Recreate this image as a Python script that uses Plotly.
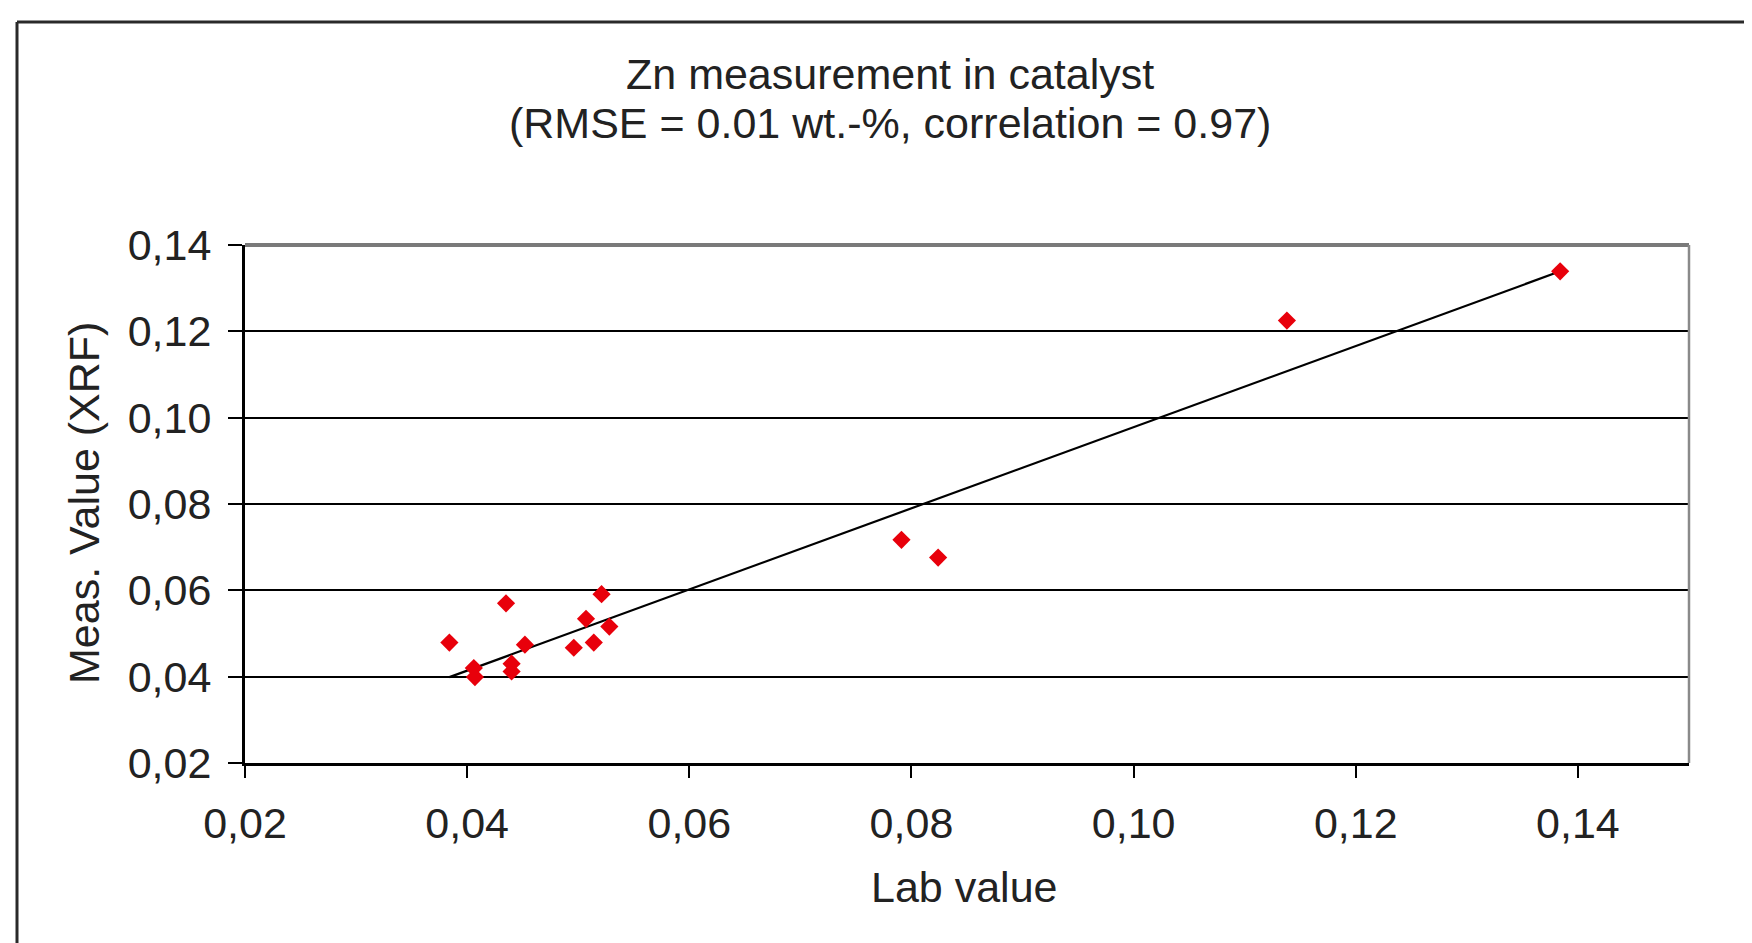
import plotly.graph_objects as go

# Data
lab_value = [0.0384, 0.0435, 0.0406, 0.0407, 0.0440, 0.0440, 0.0452, 0.0496,
             0.0507, 0.0514, 0.0521, 0.0528, 0.0791, 0.0824, 0.1138, 0.1384]
meas_value = [0.0479, 0.0570, 0.0420, 0.0399, 0.0430, 0.0412, 0.0474, 0.0467,
              0.0534, 0.0479, 0.0591, 0.0516, 0.0717, 0.0676, 0.1225, 0.1339]
fit_x = [0.0384, 0.1384]
fit_y = [0.0399, 0.1339]
tick_vals = [0.02, 0.04, 0.06, 0.08, 0.10, 0.12, 0.14]
tick_text = ["0,02", "0,04", "0,06", "0,08", "0,10", "0,12", "0,14"]

OFF = 8  # page body margin
W, H = 1752 - OFF, 943 - OFF
L, R, T, B = 245 - OFF, 1689 - OFF, 245 - OFF, 763 - OFF
FONT = "Arial, Liberation Sans, Helvetica, sans-serif"
FS = 43
TXT = "#222222"

def px_x(p):
    return (p - OFF - L) / (R - L)

def px_y(p):
    return (B - (p - OFF)) / (B - T)

fig = go.Figure()
fig.add_trace(go.Scatter(x=fit_x, y=fit_y, mode="lines",
                         line=dict(color="black", width=2.2), showlegend=False))
fig.add_trace(go.Scatter(x=lab_value, y=meas_value, mode="markers",
                         marker=dict(symbol="diamond", size=14, color="#e8000b",
                                     line=dict(width=0)), showlegend=False))

fig.update_layout(
    width=W, height=H,
    margin=dict(l=L, r=W - R, t=T, b=H - B, pad=0),
    paper_bgcolor="white", plot_bgcolor="white",
    font=dict(family=FONT, size=FS, color=TXT),
    separators=",.",
    xaxis=dict(range=[0.02, 0.15], tickvals=tick_vals, ticktext=tick_text,
               showgrid=False, zeroline=False, showline=True, linecolor="black",
               linewidth=3, ticks="outside", ticklen=12, tickwidth=2,
               tickcolor="black", ticklabelstandoff=8,
               tickfont=dict(size=FS, color=TXT)),
    yaxis=dict(range=[0.02, 0.14], tickvals=tick_vals, ticktext=tick_text,
               showgrid=True, gridcolor="black", gridwidth=2.2, zeroline=False,
               showline=True, linecolor="black", linewidth=3, ticks="outside",
               ticklen=14, tickwidth=2, tickcolor="black", ticklabelstandoff=8,
               tickfont=dict(size=FS, color=TXT)),
    annotations=[
        dict(text="Zn measurement in catalyst", x=px_x(890), y=px_y(74),
             xref="paper", yref="paper", showarrow=False, xanchor="center",
             yanchor="middle", font=dict(size=FS, family=FONT, color=TXT)),
        dict(text="(RMSE = 0.01 wt.-%, correlation = 0.97)", x=px_x(890), y=px_y(123),
             xref="paper", yref="paper", showarrow=False, xanchor="center",
             yanchor="middle", font=dict(size=FS, family=FONT, color=TXT)),
        dict(text="Lab value", x=px_x(964), y=px_y(887), xref="paper", yref="paper",
             showarrow=False, xanchor="center", yanchor="middle",
             font=dict(size=FS, family=FONT, color=TXT)),
        dict(text="Meas. Value (XRF)", x=px_x(84), y=px_y(503), xref="paper",
             yref="paper", showarrow=False, textangle=-90, xanchor="center",
             yanchor="middle", font=dict(size=FS, family=FONT, color=TXT)),
    ],
    shapes=[
        # plot-area top and right borders (grey)
        dict(type="line", xref="paper", yref="paper", x0=0, x1=1, y0=1, y1=1,
             line=dict(color="#7a7a7a", width=4), layer="above"),
        dict(type="line", xref="paper", yref="paper", x0=1, x1=1, y0=0, y1=1,
             line=dict(color="#8a8a8a", width=2.5), layer="above"),
        # outer chart frame (left and top visible)
        dict(type="line", xref="paper", yref="paper", x0=px_x(17), x1=px_x(17),
             y0=px_y(22), y1=px_y(943 + 20), line=dict(color="#2a2a2a", width=3)),
        dict(type="line", xref="paper", yref="paper", x0=px_x(17), x1=px_x(1752 + 20),
             y0=px_y(22), y1=px_y(22), line=dict(color="#2a2a2a", width=3)),
    ],
)

fig.write_html("out.html")
